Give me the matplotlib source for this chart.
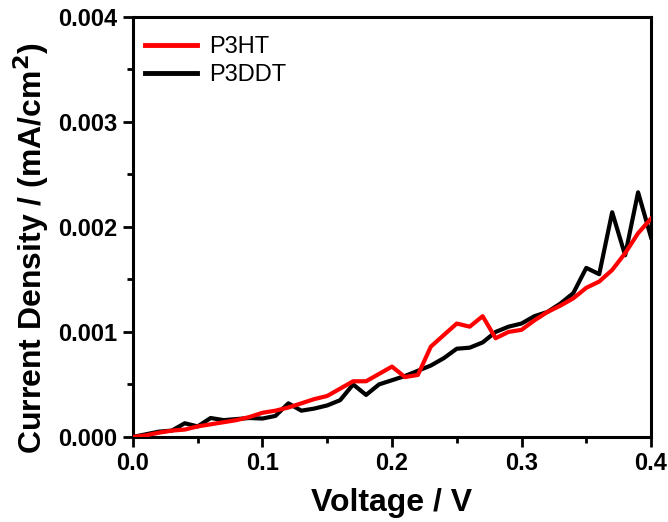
import matplotlib
matplotlib.use("Agg")
import matplotlib.pyplot as plt
from matplotlib.ticker import MultipleLocator, FormatStrFormatter

voltage = [round(0.01 * i, 2) for i in range(41)]

p3ht = [0.0, 0.000015, 0.00004, 0.00006, 0.00007, 0.0001, 0.00012, 0.00014, 0.00016, 0.00019,
        0.00023, 0.00025, 0.00028, 0.00032, 0.00036, 0.00039, 0.00046, 0.00053, 0.00053, 0.0006,
        0.00067, 0.00057, 0.00059, 0.00086, 0.00097, 0.00108, 0.00105, 0.00115, 0.00094, 0.001,
        0.00102, 0.00111, 0.00119, 0.00125, 0.00132, 0.00142, 0.00148, 0.00159, 0.00175, 0.00194,
        0.00208]

p3ddt = [0.0, 0.000025, 0.00005, 0.00006, 0.00013, 0.0001, 0.00018, 0.00016, 0.00017, 0.00018,
         0.000175, 0.0002, 0.00032, 0.00025, 0.00027, 0.0003, 0.00035, 0.0005, 0.0004, 0.0005,
         0.00054, 0.00058, 0.00063, 0.00068, 0.00075, 0.00084, 0.00085, 0.0009, 0.001, 0.00105,
         0.00108, 0.00115, 0.00119, 0.00127, 0.00137, 0.00161, 0.00155, 0.00214, 0.00173, 0.00233,
         0.0019]

series_labels = ["P3HT", "P3DDT"]

plt.rcParams['font.family'] = ['Liberation Sans', 'DejaVu Sans']

fig = plt.figure(figsize=(6.68, 5.22), dpi=100)
ax = fig.add_axes([0.199, 0.163, 0.7756, 0.8045])

ax.plot(voltage, p3ht, color='#ff0000', lw=3.0, label=series_labels[0], zorder=3)
ax.plot(voltage, p3ddt, color='black', lw=3.0, label=series_labels[1], zorder=2)

ax.set_xlim(0, 0.4)
ax.set_ylim(0, 0.004)
ax.xaxis.set_major_locator(MultipleLocator(0.1))
ax.xaxis.set_minor_locator(MultipleLocator(0.05))
ax.yaxis.set_major_locator(MultipleLocator(0.001))
ax.yaxis.set_minor_locator(MultipleLocator(0.0005))
ax.xaxis.set_major_formatter(FormatStrFormatter('%.1f'))
ax.yaxis.set_major_formatter(FormatStrFormatter('%.3f'))

for s in ax.spines.values():
    s.set_linewidth(2.2)
ax.tick_params(which='major', direction='out', length=7, width=2, labelsize=17, pad=4)
ax.tick_params(which='minor', direction='out', length=4, width=2)
for lab in ax.get_xticklabels() + ax.get_yticklabels():
    lab.set_fontweight('bold')

ax.set_xlabel('Voltage / V', fontsize=23, fontweight='bold', labelpad=9)
ax.set_ylabel('Current Density / (mA/cm$^\\mathbf{2}$)', fontsize=23, fontweight='bold')
ax.yaxis.label.set_va('center')
ax.yaxis.set_label_coords(-0.197, 0.45)

leg = ax.legend(loc='upper left', frameon=False, fontsize=17, handlelength=2.2,
                handletextpad=0.5, borderaxespad=0.3, labelspacing=0.25,
                bbox_to_anchor=(-0.008, 0.993))
for h in leg.get_lines():
    h.set_linewidth(3.5)

fig.savefig('out.png', dpi=100)
